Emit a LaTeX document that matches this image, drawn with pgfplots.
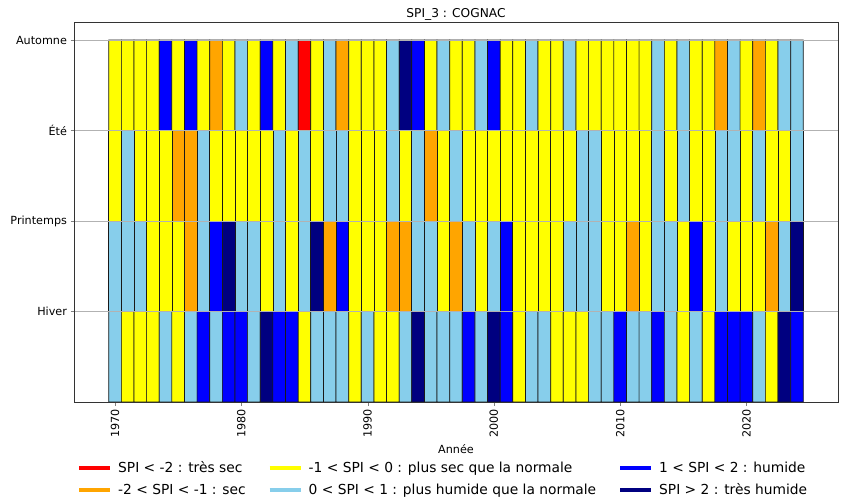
\documentclass[border=0pt]{standalone}
\usepackage{fontspec}
\setmainfont{DejaVu Sans}
\usepackage{pgfplots}
\pgfplotsset{compat=1.18}

\definecolor{spired}{RGB}{255,0,0}
\definecolor{spiorange}{RGB}{255,165,0}
\definecolor{spiyellow}{RGB}{255,255,0}
\definecolor{spisky}{RGB}{135,206,235}
\definecolor{spiblue}{RGB}{0,0,255}
\definecolor{spinavy}{RGB}{0,0,128}

\begin{document}
\begin{tikzpicture}
\useasboundingbox (0,0) rectangle (844pt,497pt);
% matrix plot turns the y axis downwards, so the rows are stored with y = -row
\begin{axis}[
    at={(74pt,95pt)}, anchor=south west,
    scale only axis,
    width=764pt, height=380pt,
    xmin=1966.75, xmax=2027.25,
    ymin=-3.2, ymax=1,
    y dir=reverse,
    xtick={1970,1980,1990,2000,2010,2020},
    xticklabels={1970,1980,1990,2000,2010,2020},
    ytick={-3,-2,-1,0},
    yticklabels={Automne,Été,Printemps,Hiver},
    tick pos=left,
    tick align=outside,
    major tick length=3.5pt,
    ticklabel style={font=\fontsize{11.2}{13}\selectfont},
    x tick label style={rotate=90, anchor=east},
    ymajorgrids,
    major grid style={black!30, line width=0.8pt},
    axis on top,
    axis line style={black!80},
    title={SPI\_3 : COGNAC},
    title style={at={(0.5,1)}, anchor=base, yshift=-1pt, inner sep=0pt, font=\fontsize{12.2}{14}\selectfont},
    xlabel={Année},
    xlabel style={at={(axis description cs:0.5,0)}, anchor=base, yshift=-51pt, font=\fontsize{11.2}{13}\selectfont},
    colormap={spi}{rgb255=(255,0,0) rgb255=(255,165,0) rgb255=(255,255,0) rgb255=(135,206,235) rgb255=(0,0,255) rgb255=(0,0,128)},
    legend columns=3,
    legend cell align=left,
    legend image code/.code={\draw[#1, line width=4pt] (0pt,0pt) -- (31pt,0pt);},
    legend style={draw=none, fill=none, at={(0.0,-0.145)}, anchor=north west,
        font=\fontsize{13.8}{16}\selectfont, row sep=6pt,
        /tikz/every odd column/.append style={column sep=4pt},
        /tikz/every even column/.append style={column sep=20pt}},
]
% codes: 0 tres sec, 1 sec, 2 plus sec, 3 plus humide, 4 humide, 5 tres humide
\addplot[matrix plot, shader=faceted, faceted color=black!90, line width=0.7pt,
    mesh/cols=55, point meta=explicit, colormap access=direct, forget plot] coordinates {
% Automne
(1970,-2.5) [2] (1971,-2.5) [2] (1972,-2.5) [2] (1973,-2.5) [2] (1974,-2.5) [4] (1975,-2.5) [2] (1976,-2.5) [4] (1977,-2.5) [2] (1978,-2.5) [1] (1979,-2.5) [2]
(1980,-2.5) [3] (1981,-2.5) [2] (1982,-2.5) [4] (1983,-2.5) [2] (1984,-2.5) [3] (1985,-2.5) [0] (1986,-2.5) [2] (1987,-2.5) [3] (1988,-2.5) [1] (1989,-2.5) [2]
(1990,-2.5) [2] (1991,-2.5) [2] (1992,-2.5) [3] (1993,-2.5) [5] (1994,-2.5) [4] (1995,-2.5) [2] (1996,-2.5) [3] (1997,-2.5) [2] (1998,-2.5) [2] (1999,-2.5) [3]
(2000,-2.5) [4] (2001,-2.5) [2] (2002,-2.5) [2] (2003,-2.5) [3] (2004,-2.5) [2] (2005,-2.5) [2] (2006,-2.5) [3] (2007,-2.5) [2] (2008,-2.5) [2] (2009,-2.5) [2]
(2010,-2.5) [2] (2011,-2.5) [2] (2012,-2.5) [2] (2013,-2.5) [3] (2014,-2.5) [2] (2015,-2.5) [3] (2016,-2.5) [2] (2017,-2.5) [2] (2018,-2.5) [1] (2019,-2.5) [3]
(2020,-2.5) [2] (2021,-2.5) [1] (2022,-2.5) [2] (2023,-2.5) [3] (2024,-2.5) [3]
% Ete
(1970,-1.5) [2] (1971,-1.5) [3] (1972,-1.5) [2] (1973,-1.5) [2] (1974,-1.5) [2] (1975,-1.5) [1] (1976,-1.5) [1] (1977,-1.5) [3] (1978,-1.5) [2] (1979,-1.5) [2]
(1980,-1.5) [2] (1981,-1.5) [2] (1982,-1.5) [2] (1983,-1.5) [3] (1984,-1.5) [2] (1985,-1.5) [3] (1986,-1.5) [2] (1987,-1.5) [3] (1988,-1.5) [3] (1989,-1.5) [2]
(1990,-1.5) [2] (1991,-1.5) [2] (1992,-1.5) [3] (1993,-1.5) [2] (1994,-1.5) [3] (1995,-1.5) [1] (1996,-1.5) [2] (1997,-1.5) [3] (1998,-1.5) [2] (1999,-1.5) [2]
(2000,-1.5) [2] (2001,-1.5) [2] (2002,-1.5) [2] (2003,-1.5) [2] (2004,-1.5) [2] (2005,-1.5) [2] (2006,-1.5) [2] (2007,-1.5) [3] (2008,-1.5) [3] (2009,-1.5) [2]
(2010,-1.5) [2] (2011,-1.5) [2] (2012,-1.5) [2] (2013,-1.5) [3] (2014,-1.5) [2] (2015,-1.5) [3] (2016,-1.5) [2] (2017,-1.5) [2] (2018,-1.5) [3] (2019,-1.5) [3]
(2020,-1.5) [2] (2021,-1.5) [3] (2022,-1.5) [2] (2023,-1.5) [2] (2024,-1.5) [3]
% Printemps
(1970,-0.5) [3] (1971,-0.5) [3] (1972,-0.5) [3] (1973,-0.5) [2] (1974,-0.5) [2] (1975,-0.5) [2] (1976,-0.5) [1] (1977,-0.5) [3] (1978,-0.5) [4] (1979,-0.5) [5]
(1980,-0.5) [3] (1981,-0.5) [3] (1982,-0.5) [2] (1983,-0.5) [3] (1984,-0.5) [2] (1985,-0.5) [3] (1986,-0.5) [5] (1987,-0.5) [1] (1988,-0.5) [4] (1989,-0.5) [2]
(1990,-0.5) [2] (1991,-0.5) [2] (1992,-0.5) [1] (1993,-0.5) [1] (1994,-0.5) [3] (1995,-0.5) [3] (1996,-0.5) [2] (1997,-0.5) [1] (1998,-0.5) [3] (1999,-0.5) [2]
(2000,-0.5) [3] (2001,-0.5) [4] (2002,-0.5) [2] (2003,-0.5) [2] (2004,-0.5) [2] (2005,-0.5) [2] (2006,-0.5) [3] (2007,-0.5) [3] (2008,-0.5) [3] (2009,-0.5) [2]
(2010,-0.5) [2] (2011,-0.5) [1] (2012,-0.5) [2] (2013,-0.5) [3] (2014,-0.5) [3] (2015,-0.5) [2] (2016,-0.5) [4] (2017,-0.5) [2] (2018,-0.5) [3] (2019,-0.5) [2]
(2020,-0.5) [2] (2021,-0.5) [2] (2022,-0.5) [1] (2023,-0.5) [3] (2024,-0.5) [5]
% Hiver
(1970,0.5) [3] (1971,0.5) [2] (1972,0.5) [2] (1973,0.5) [2] (1974,0.5) [3] (1975,0.5) [2] (1976,0.5) [3] (1977,0.5) [4] (1978,0.5) [3] (1979,0.5) [4]
(1980,0.5) [4] (1981,0.5) [3] (1982,0.5) [5] (1983,0.5) [4] (1984,0.5) [4] (1985,0.5) [2] (1986,0.5) [3] (1987,0.5) [3] (1988,0.5) [3] (1989,0.5) [2]
(1990,0.5) [3] (1991,0.5) [2] (1992,0.5) [2] (1993,0.5) [3] (1994,0.5) [5] (1995,0.5) [3] (1996,0.5) [3] (1997,0.5) [3] (1998,0.5) [4] (1999,0.5) [3]
(2000,0.5) [5] (2001,0.5) [4] (2002,0.5) [2] (2003,0.5) [3] (2004,0.5) [3] (2005,0.5) [2] (2006,0.5) [2] (2007,0.5) [2] (2008,0.5) [3] (2009,0.5) [3]
(2010,0.5) [4] (2011,0.5) [3] (2012,0.5) [3] (2013,0.5) [4] (2014,0.5) [3] (2015,0.5) [2] (2016,0.5) [3] (2017,0.5) [2] (2018,0.5) [4] (2019,0.5) [4]
(2020,0.5) [4] (2021,0.5) [3] (2022,0.5) [2] (2023,0.5) [5] (2024,0.5) [4]
};
\addlegendimage{spired}
\addlegendentry{SPI < -2 : très sec}
\addlegendimage{spiyellow}
\addlegendentry{-1 < SPI < 0 : plus sec que la normale}
\addlegendimage{spiblue}
\addlegendentry{1 < SPI < 2 : humide}
\addlegendimage{spiorange}
\addlegendentry{-2 < SPI < -1 : sec}
\addlegendimage{spisky}
\addlegendentry{0 < SPI < 1 : plus humide que la normale}
\addlegendimage{spinavy}
\addlegendentry{SPI > 2 : très humide}
\end{axis}
\end{tikzpicture}
\end{document}
